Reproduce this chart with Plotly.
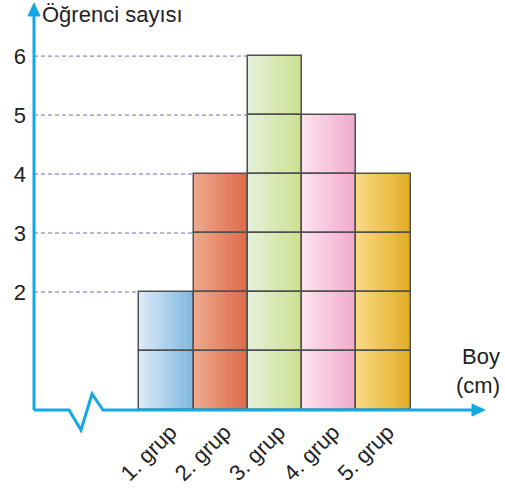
import plotly.graph_objects as go

# ---- data ----
categories = ["1. grup", "2. grup", "3. grup", "4. grup", "5. grup"]
students = [2, 4, 6, 5, 4]
y_ticks = [2, 3, 4, 5, 6]
y_title = "Öğrenci sayısı"
x_title = "Boy<br>(cm)"

# ---- styles ----
left_colors = ["#dceaf7", "#eea98c", "#e6f1dc", "#fde3ee", "#fbd985"]
right_colors = ["#7fb6e0", "#dd6a4a", "#cbe08e", "#f0a8cb", "#e1ad25"]
axis_blue = "#12a9e6"
cell_line = "#505050"
dash_color = "#6a6ac8"
FONT = "Liberation Sans, Arial, Helvetica, sans-serif"
N_STRIPS = 24


def hex_to_rgb(h):
    h = h.lstrip("#")
    return tuple(int(h[i:i + 2], 16) for i in (0, 2, 4))


def mix(c1, c2, t):
    a, b = hex_to_rgb(c1), hex_to_rgb(c2)
    return "rgb({},{},{})".format(*[round(a[i] + (b[i] - a[i]) * t) for i in range(3)])


xpos = list(range(len(categories)))
x_range = [-2.44, 5.87]
y_range = [0, 6.9]

fig = go.Figure()

# gradient fill made from narrow vertical strips of each bar
for j in range(N_STRIPS):
    t = (j + 0.5) / N_STRIPS
    fig.add_trace(go.Bar(
        x=xpos, y=students,
        offset=-0.5 + j / N_STRIPS,
        width=min(1.0 / N_STRIPS * 1.4, 1 - j / N_STRIPS),
        marker=dict(color=[mix(l, r, t) for l, r in zip(left_colors, right_colors)],
                    line=dict(width=0)),
        hoverinfo="skip", showlegend=False,
    ))

# unit cells (outlines)
cell_x, cell_base = [], []
for xi, v in zip(xpos, students):
    for k in range(v):
        cell_x.append(xi)
        cell_base.append(k)
fig.add_trace(go.Bar(
    x=cell_x, y=[1] * len(cell_x), base=cell_base, width=1.0, offset=-0.5,
    marker=dict(color="rgba(0,0,0,0)", line=dict(color=cell_line, width=1.5)),
    hoverinfo="skip", showlegend=False,
))

# dashed guide lines from the axis to the first bar reaching each level
for lvl in y_ticks:
    first = next(i for i, v in enumerate(students) if v >= lvl)
    fig.add_trace(go.Scatter(
        x=[x_range[0], xpos[first] - 0.5], y=[lvl, lvl], mode="lines",
        line=dict(color=dash_color, width=1, dash="4px,3px"),
        hoverinfo="skip", showlegend=False,
    ))

# axes drawn as shapes (with break symbol and arrows)
shapes = [
    dict(type="line", xref="paper", yref="paper", x0=0, x1=0, y0=0, y1=0.97,
         line=dict(color=axis_blue, width=3)),
    dict(type="path", xref="paper", yref="paper", xsizemode="pixel", ysizemode="pixel",
         xanchor=0, yanchor=1, path="M -6,-13 L 0,0 L 6,-13 Z",
         fillcolor=axis_blue, line=dict(color=axis_blue, width=1)),
    dict(type="path", xref="paper", yref="paper", xsizemode="pixel", ysizemode="pixel",
         xanchor=0, yanchor=0, path="M 0,0 L 35,0 L 47,-20 L 58,16 L 69,0 L 440,0",
         line=dict(color=axis_blue, width=3)),
    dict(type="path", xref="paper", yref="paper", xsizemode="pixel", ysizemode="pixel",
         xanchor=1, yanchor=0, path="M -13,-6 L 0,0 L -13,6 Z",
         fillcolor=axis_blue, line=dict(color=axis_blue, width=1)),
]

fig.update_layout(
    width=505, height=493,
    margin=dict(l=34, r=20, t=3, b=83),
    paper_bgcolor="white", plot_bgcolor="white",
    barmode="overlay", bargap=0,
    font=dict(family=FONT, size=22, color="#222222"),
    shapes=shapes,
    xaxis=dict(range=x_range, tickvals=xpos, ticktext=categories, tickangle=-45,
               showgrid=False, zeroline=False, showline=False, ticks="",
               ticklabelstandoff=4, ticklabelshift=4, tickfont=dict(size=22)),
    yaxis=dict(range=y_range, tickvals=y_ticks, showgrid=False, zeroline=False,
               showline=False, ticks="", ticklabelstandoff=7, tickfont=dict(size=22)),
    annotations=[
        dict(text=y_title, xref="paper", yref="paper", x=0, y=1, xanchor="left",
             yanchor="top", xshift=6, yshift=3, showarrow=False,
             font=dict(size=22, family=FONT, color="#222222")),
        dict(text=x_title, xref="paper", yref="paper", x=1, y=0, xanchor="right",
             yanchor="bottom", xshift=17, yshift=10, align="right", showarrow=False,
             font=dict(size=22, family=FONT, color="#222222")),
    ],
)

fig.write_html("out.html", config={"displayModeBar": False},
               post_script="document.body.style.margin='0';")
